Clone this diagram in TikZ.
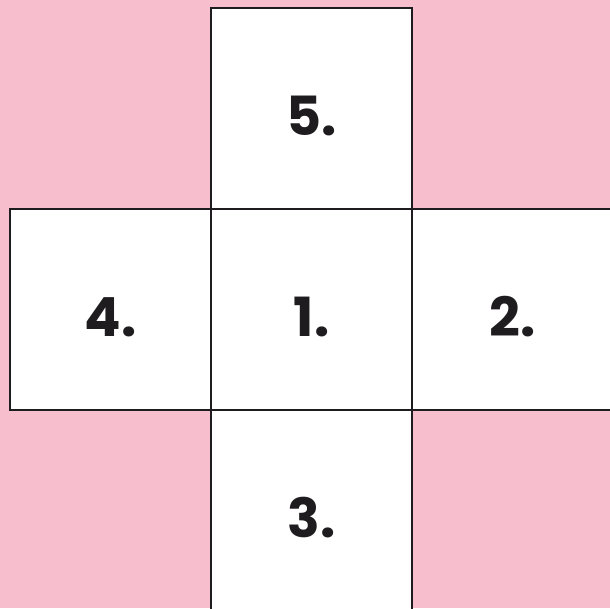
\documentclass[tikz,border=0pt]{standalone}
\usepackage{fontspec}
\newfontfamily\numfont{Poppins}
\usetikzlibrary{positioning}
\definecolor{pinkbg}{RGB}{247,190,206}
\definecolor{ink}{RGB}{30,28,30}
\tikzset{
  face/.style={draw=ink,line width=2.4pt,fill=white,minimum size=201pt,outer sep=0pt,
               inner sep=0pt,font=\numfont\bfseries\fontsize{54}{54}\selectfont,text=ink,
               text height=54pt,text depth=0pt},
}

\begin{document}
\begin{tikzpicture}[x=1pt,y=1pt,node distance=0pt]
  \useasboundingbox (0,-608) rectangle (610,0);
  \clip (0,-608) rectangle (610,0);
  \fill[pinkbg] (0,-608) rectangle (610,0);
  \node[face] (f1) at (311.5,-309.5) {1.};
  \node[face] (f5) [above=of f1] {5.};
  \node[face] (f4) [left=of f1] {4.};
  \node[face] (f2) [right=of f1] {2.};
  \node[face] (f3) [below=of f1] {3.};
\end{tikzpicture}
\end{document}
